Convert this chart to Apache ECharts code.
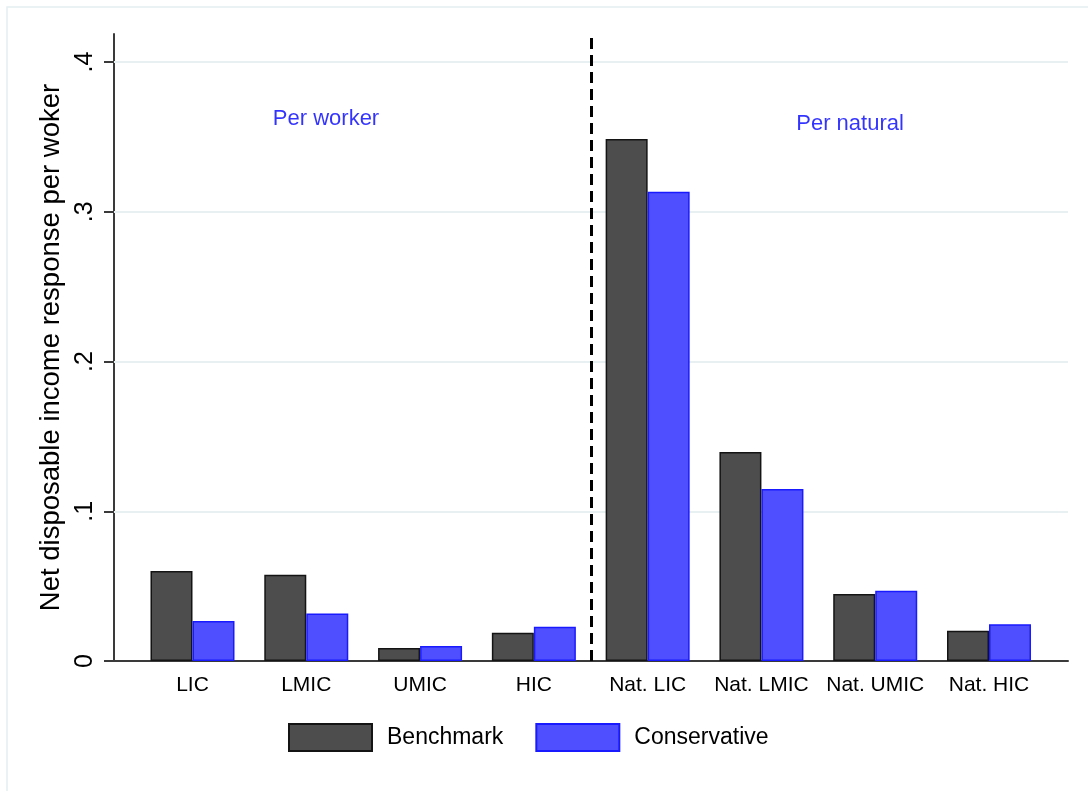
<!DOCTYPE html>
<html>
<head>
<meta charset="utf-8">
<script src="https://cdn.jsdelivr.net/npm/echarts@6/dist/echarts.min.js"></script>
<style>
  html, body { margin: 0; padding: 0; background: #fff; }
  #main { width: 1088px; height: 791px; }
</style>
</head>
<body>
<div id="main"></div>
<script>
// categories and values
const categories = ["LIC", "LMIC", "UMIC", "HIC", "Nat. LIC", "Nat. LMIC", "Nat. UMIC", "Nat. HIC"];
const benchmark = [0.0601, 0.0576, 0.0087, 0.0189, 0.3486, 0.1396, 0.0447, 0.0202];
const conservative = [0.0267, 0.0318, 0.0100, 0.0229, 0.3134, 0.1149, 0.0469, 0.0245];
const yTicks = [0, 0.1, 0.2, 0.3, 0.4];
// text notes, x in category band units (0 = left edge of first band)
const notes = [[1.673, 0.362, "Per worker"], [6.278, 0.3586, "Per natural"]];
const splitAt = 4; // dashed divider between the two groups

const font = "'Liberation Sans', Arial, sans-serif";
const chart = echarts.init(document.getElementById("main"));

const option = {
  backgroundColor: "#fff",
  animation: false,
  textStyle: { fontFamily: font },
  graphic: [{
    type: "rect",
    shape: { x: 7, y: 7, width: 1120, height: 820 },
    style: { fill: "none", stroke: "#e5eef1", lineWidth: 1.5 },
    silent: true
  }],
  legend: {
    data: ["Benchmark", "Conservative"],
    left: 283,
    top: 718,
    itemWidth: 83,
    itemHeight: 27,
    itemGap: 32,
    icon: "rect",
    textStyle: { fontSize: 23, color: "#000", fontFamily: font, padding: [0, 0, 0, 10] }
  },
  grid: [
    { left: 114, right: 20, top: 34, bottom: 130 },
    { left: 135.6, right: 42.1, top: 34, bottom: 130 }
  ],
  xAxis: [
    {
      // frame axis: same band units as the bars, only draws the base line
      type: "value",
      gridIndex: 0,
      min: -0.19,
      max: 8.193,
      axisLine: { show: true, onZero: false, lineStyle: { color: "#3a3a3a", width: 2 } },
      axisTick: { show: false },
      axisLabel: { show: false },
      splitLine: { show: false }
    },
    {
      type: "category",
      gridIndex: 1,
      data: categories,
      axisLine: { show: false },
      axisTick: { show: false },
      axisLabel: { fontSize: 21, color: "#000", margin: 14, fontFamily: font, interval: 0 }
    }
  ],
  yAxis: [
    {
      type: "value",
      gridIndex: 0,
      min: 0,
      max: 0.4187,
      name: "Net disposable income response per woker",
      nameLocation: "middle",
      nameGap: 44,
      nameTextStyle: { fontSize: 27.5, color: "#000", fontFamily: font },
      axisLine: { show: true, onZero: false, lineStyle: { color: "#3a3a3a", width: 2 } },
      axisTick: { show: true, length: 10, customValues: yTicks, lineStyle: { color: "#3a3a3a", width: 2 } },
      axisLabel: {
        customValues: yTicks,
        rotate: 90,
        fontSize: 25,
        color: "#000",
        margin: 16,
        fontFamily: font,
        formatter: v => (v === 0 ? "0" : String(v).replace(/^0/, ""))
      },
      splitLine: { show: false }
    },
    {
      type: "value",
      gridIndex: 1,
      min: 0,
      max: 0.4187,
      show: false
    }
  ],
  series: [
    {
      name: "notes",
      type: "scatter",
      xAxisIndex: 0,
      yAxisIndex: 0,
      z: 1,
      silent: true,
      symbolSize: 0,
      data: notes,
      label: {
        show: true,
        position: "inside",
        formatter: p => p.value[2],
        fontSize: 22,
        color: "#0000ff",
        fontFamily: font
      },
      markLine: {
        silent: true,
        z: 1,
        symbol: "none",
        label: { show: false },
        data: [
          ...yTicks.filter(v => v > 0).map(v => ({ yAxis: v, lineStyle: { color: "#e8f0f2", width: 2, type: "solid" } })),
          { xAxis: splitAt, lineStyle: { color: "#000", width: 3, type: [11, 6] } }
        ]
      }
    },
    {
      name: "Benchmark",
      type: "bar",
      xAxisIndex: 1,
      yAxisIndex: 1,
      z: 3,
      barWidth: 42,
      barGap: "0%",
      data: benchmark,
      itemStyle: { color: "#4d4d4d", borderColor: "#141414", borderWidth: 1.5 }
    },
    {
      name: "Conservative",
      type: "bar",
      xAxisIndex: 1,
      yAxisIndex: 1,
      z: 3,
      barWidth: 42,
      barGap: "0%",
      data: conservative,
      itemStyle: { color: "#4f4fff", borderColor: "#1a1aff", borderWidth: 1.5 }
    }
  ]
};

chart.setOption(option);
window.onresize = function () {
  chart.resize();
};
</script>
</body>
</html>
